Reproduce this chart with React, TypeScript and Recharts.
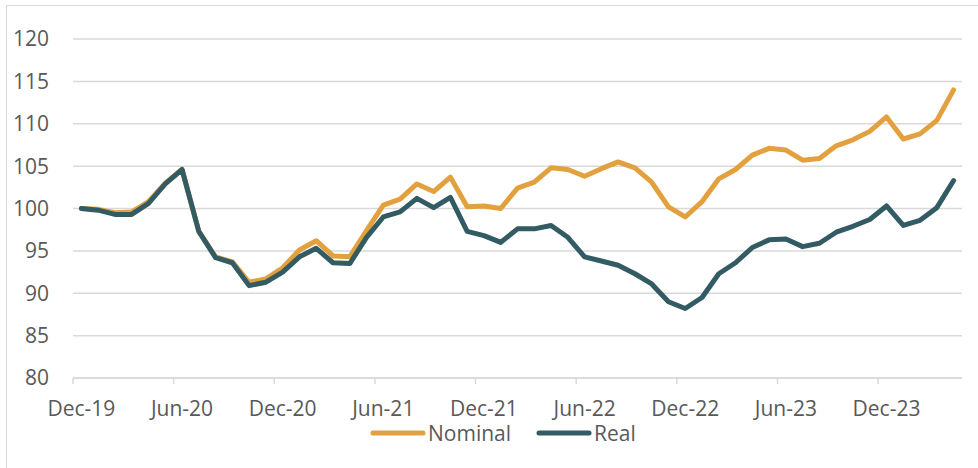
import React from "react";
import { CartesianGrid, Legend, Line, LineChart, XAxis, YAxis } from "recharts";

const months = [
  "Dec-19", "Jan-20", "Feb-20", "Mar-20", "Apr-20", "May-20", "Jun-20", "Jul-20", "Aug-20", "Sep-20", "Oct-20", "Nov-20",
  "Dec-20", "Jan-21", "Feb-21", "Mar-21", "Apr-21", "May-21", "Jun-21", "Jul-21", "Aug-21", "Sep-21", "Oct-21", "Nov-21",
  "Dec-21", "Jan-22", "Feb-22", "Mar-22", "Apr-22", "May-22", "Jun-22", "Jul-22", "Aug-22", "Sep-22", "Oct-22", "Nov-22",
  "Dec-22", "Jan-23", "Feb-23", "Mar-23", "Apr-23", "May-23", "Jun-23", "Jul-23", "Aug-23", "Sep-23", "Oct-23", "Nov-23",
  "Dec-23", "Jan-24", "Feb-24", "Mar-24", "Apr-24",
];

const nominal = [
  100.0, 99.9, 99.5, 99.6, 100.8, 103.0, 104.6, 97.3, 94.3, 93.7, 91.3, 91.7,
  93.0, 95.1, 96.2, 94.4, 94.3, 97.4, 100.4, 101.1, 102.9, 102.0, 103.7, 100.2,
  100.3, 100.0, 102.4, 103.1, 104.8, 104.6, 103.8, 104.7, 105.5, 104.8, 103.1, 100.2,
  99.0, 100.8, 103.5, 104.6, 106.3, 107.1, 106.9, 105.7, 105.9, 107.4, 108.1, 109.1,
  110.8, 108.2, 108.8, 110.4, 114.0,
];

const real = [
  100.0, 99.8, 99.3, 99.3, 100.6, 102.9, 104.6, 97.3, 94.2, 93.6, 90.9, 91.3,
  92.5, 94.3, 95.3, 93.6, 93.5, 96.6, 99.0, 99.6, 101.2, 100.1, 101.3, 97.3,
  96.8, 96.0, 97.6, 97.6, 98.0, 96.6, 94.3, 93.8, 93.3, 92.3, 91.1, 89.0,
  88.2, 89.5, 92.3, 93.6, 95.4, 96.3, 96.4, 95.5, 95.9, 97.2, 97.9, 98.7,
  100.3, 98.0, 98.6, 100.1, 103.3,
];

const yTicks = [80, 85, 90, 95, 100, 105, 110, 115, 120];

const data = months.map((m, i) => ({ month: m, Nominal: nominal[i], Real: real[i] }));

const ORANGE = "#E2A13E";
const TEAL = "#325B63";
const GRID = "#D9D9D9";
const TEXT = "#595959";
const FONT = "'Open Sans', sans-serif";

const MonthTick = (props: any) => {
  const { x, y, payload } = props;
  const half = payload.offset || 0;
  return (
    <g>
      <line x1={x - half} x2={x - half} y1={y} y2={y + 6} stroke={GRID} strokeWidth={1.5} />
      <text x={x} y={y + 38} textAnchor="middle" fill={TEXT} fontSize={21} fontFamily={FONT}>
        {payload.value}
      </text>
    </g>
  );
};

const renderLegend = () => {
  const items = [
    { name: "Nominal", color: ORANGE },
    { name: "Real", color: TEAL },
  ];
  return (
    <div style={{ display: "flex", alignItems: "center", fontFamily: FONT, fontSize: 21, color: TEXT }}>
      {items.map((it, i) => (
        <div key={it.name} style={{ display: "flex", alignItems: "center", marginLeft: i ? 25 : 0 }}>
          <svg width={56} height={8}>
            <line x1={3} x2={53} y1={4} y2={4} stroke={it.color} strokeWidth={5} strokeLinecap="round" />
          </svg>
          <span style={{ marginLeft: 2, lineHeight: "18px" }}>{it.name}</span>
        </div>
      ))}
    </div>
  );
};

export default function App() {
  return (
    <div style={{ position: "absolute", left: 0, top: 0, width: 978, height: 468, background: "#fff", overflow: "hidden" }}>
      <div
        style={{
          position: "absolute",
          left: 6,
          top: 5,
          width: 990,
          height: 480,
          border: `1.5px solid ${GRID}`,
          boxSizing: "border-box",
        }}
      />
      <LineChart width={978} height={468} data={data} margin={{ top: 39, right: 16, left: 0, bottom: 0 }}>
        <CartesianGrid vertical={false} stroke={GRID} strokeWidth={1.5} />
        <XAxis
          dataKey="month"
          scale="band"
          interval={5}
          tickLine={false}
          tickSize={0}
          tickMargin={0}
          axisLine={{ stroke: GRID, strokeWidth: 1.5 }}
          tick={<MonthTick />}
          height={90}
        />
        <YAxis
          domain={[80, 120]}
          ticks={yTicks}
          interval={0}
          width={73}
          axisLine={false}
          tickLine={false}
          tickSize={0}
          tickMargin={24}
          tick={{ fill: TEXT, fontSize: 21, fontFamily: FONT }}
        />
        <Line
          dataKey="Nominal"
          stroke={ORANGE}
          strokeWidth={5}
          dot={false}
          strokeLinecap="round"
          strokeLinejoin="round"
          isAnimationActive={false}
        />
        <Line
          dataKey="Real"
          stroke={TEAL}
          strokeWidth={5}
          dot={false}
          strokeLinecap="round"
          strokeLinejoin="round"
          isAnimationActive={false}
        />
        <Legend
          layout="horizontal"
          verticalAlign="middle"
          align="center"
          content={renderLegend}
          wrapperStyle={{ position: "absolute", left: 370, top: 424, width: "auto" }}
        />
      </LineChart>
    </div>
  );
}
